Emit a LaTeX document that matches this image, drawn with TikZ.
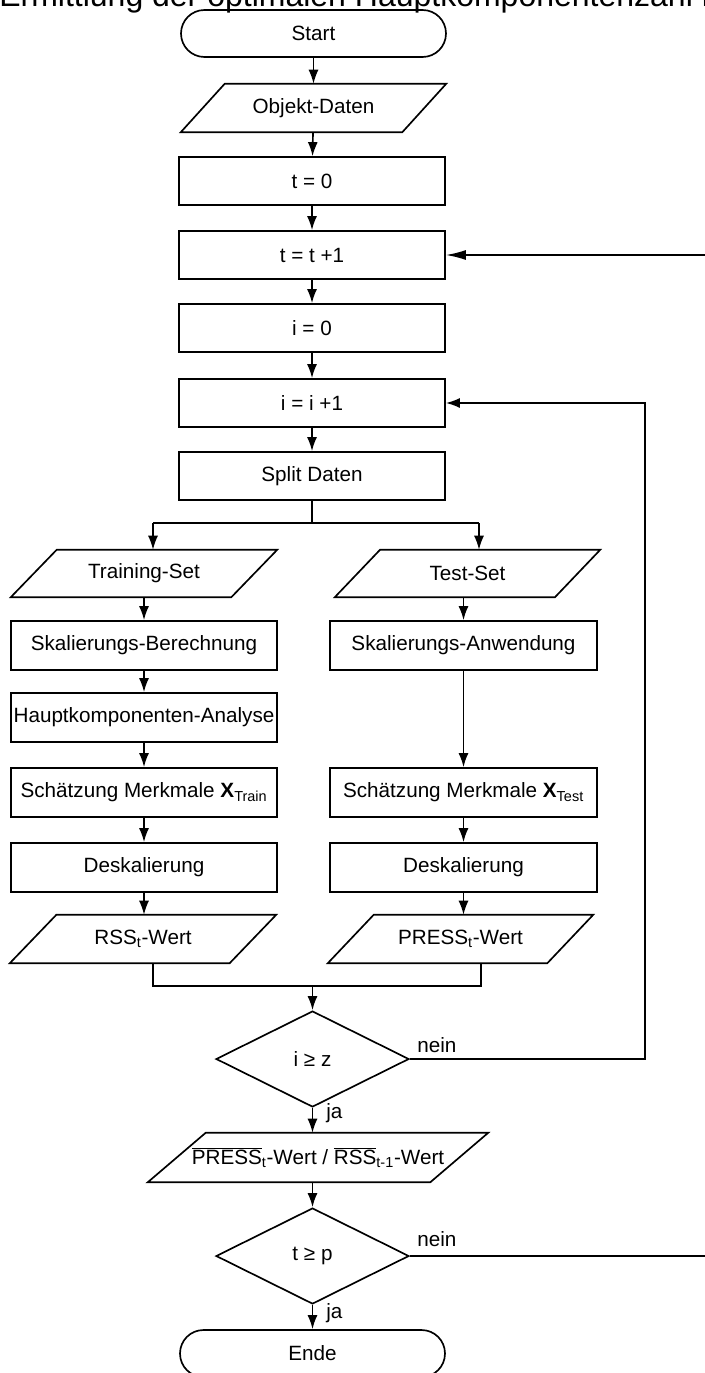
\documentclass[tikz,border=0pt]{standalone}
\usepackage{fontspec}
\setmainfont{Liberation Sans}
\usetikzlibrary{shapes.geometric,arrows.meta,calc}
\newcommand\parashape[2]{\draw[ln] (#1.south west) -- ([xshift=-#2]#1.south east) -- (#1.north east) -- ([xshift=#2]#1.north west) -- cycle;}
\begin{document}
\begin{tikzpicture}[x=0.75pt,y=-0.75pt,
  every node/.style={font=\fontsize{15.5pt}{18pt}\selectfont},
  ln/.style={line width=1.25pt},
  arr/.style={ln,-{Latex[length=10.5pt,width=7.5pt]}},
  bigarr/.style={ln,-{Latex[length=15pt,width=7.5pt]}},
  wh/.style 2 args={minimum width=#1*0.75pt,minimum height=#2*0.75pt},
  rbox/.style={draw,ln,rectangle,inner sep=0pt},
  pbox/.style={rectangle,inner sep=0pt},
  stad/.style={draw,ln,rectangle,rounded corners=17.6pt,inner sep=0pt},
  dia/.style={draw,ln,diamond,aspect=2,inner sep=0pt,minimum width=144.75pt,minimum height=72pt},
  lbl/.style={anchor=west,inner sep=0pt}]
\useasboundingbox (0,0) rectangle (705,1373);
\clip (0,0) rectangle (705,1373);
% title (cut off at the top, as in the reference)
\node[anchor=base west,inner sep=0pt,font=\fontsize{24pt}{28pt}\selectfont] (title) at (-1,7) {Ermittlung der optimalen Hauptkomponentenzahl n};
% main column
\node[stad,wh={265}{47}] (start) at (313.5,33.5) {Start};
\node[pbox,wh={265}{48}] (objekt) at (313.5,108) {Objekt-Daten};
\parashape{objekt}{33pt}
\node[rbox,wh={266}{48}] (t0) at (312,181) {t = 0};
\node[rbox,wh={266}{48}] (tt) at (312,255) {t = t +1};
\node[rbox,wh={266}{48}] (i0) at (312,328) {i = 0};
\node[rbox,wh={266}{48}] (ii) at (312,403) {i = i +1};
\node[rbox,wh={266}{48}] (split) at (312,476) {Split Daten};
% left column
\node[pbox,wh={266}{47}] (train) at (144,573.5) {Training-Set};
\parashape{train}{34.5pt}
\node[rbox,wh={266}{49}] (skb) at (144,645.5) {Skalierungs-Berechnung};
\node[rbox,wh={266}{49}] (hka) at (144,717.5) {Hauptkomponenten-Analyse};
\node[rbox,wh={266}{49}] (stl) at (144,792.5) {Schätzung Merkmale \textbf{X}\textsubscript{Train}};
\node[rbox,wh={266}{49}] (dl) at (144,867.5) {Deskalierung};
\node[pbox,wh={266}{48}] (rss) at (143,939) {RSS\textsubscript{t}-Wert};
\parashape{rss}{35pt}
% right column
\node[pbox,wh={265}{47}] (test) at (467.5,573.5) {Test-Set};
\parashape{test}{34pt}
\node[rbox,wh={267}{49}] (ska) at (463.5,645.5) {Skalierungs-Anwendung};
\node[rbox,wh={267}{49}] (str) at (463.5,792.5) {Schätzung Merkmale \textbf{X}\textsubscript{Test}};
\node[rbox,wh={267}{49}] (dr) at (463.5,867.5) {Deskalierung};
\node[pbox,wh={265}{48}] (press) at (460.5,939) {PRESS\textsubscript{t}-Wert};
\parashape{press}{34.5pt}
% decisions
\node[dia] (d1) at (312.5,1059) {i ≥ z};
\node[pbox,wh={340}{49}] (pr) at (318,1157.5) {$\overline{\mbox{PRESS}}$\textsubscript{t}-Wert / $\overline{\mbox{RSS}}$\textsubscript{t-1}-Wert};
\parashape{pr}{43.5pt}
\node[dia] (d2) at (312.5,1256) {t ≥ p};
\node[stad,wh={265}{47}] (ende) at (312.5,1353.5) {Ende};
% labels
\node[lbl] (ja1) at (326,1113) {ja};
\node[lbl] (ja2) at (326,1313) {ja};
\node[lbl] (nein1) at (417,1045) {nein};
\node[lbl] (nein2) at (417,1239) {nein};
% coordinates
\coordinate (bc) at (312,523);
\coordinate (bl) at (153,523);
\coordinate (brr) at (479,523);
\coordinate (ml) at (153,986);
\coordinate (mr) at (481,986);
\coordinate (mc) at (312.5,986);
\coordinate (l1) at (645,403);
\coordinate (l2) at (730,255);
% connectors
\draw[arr] (start) -- (objekt);
\draw[arr] (objekt) -- (t0);
\draw[arr] (t0) -- (tt);
\draw[arr] (tt) -- (i0);
\draw[arr] (i0) -- (ii);
\draw[arr] (ii) -- (split);
\draw[ln] (split.south) -- (bc);
\draw[ln] (bl) -- (brr);
\draw[arr] (bl) -- (bl |- train.north);
\draw[arr] (brr) -- (brr |- test.north);
\draw[arr] (train.south -| skb) -- (skb);
\draw[arr] (skb) -- (hka);
\draw[arr] (hka) -- (stl);
\draw[arr] (stl) -- (dl);
\draw[arr] (dl) -- (dl |- rss.north);
\draw[arr] (test.south -| ska) -- (ska);
\draw[arr] (ska) -- (str);
\draw[arr] (str) -- (dr);
\draw[arr] (dr) -- (dr |- press.north);
\draw[ln] (ml |- rss.south) -- (ml) -- (mr) -- (mr |- press.south);
\draw[arr] (mc) -- (d1.north);
\draw[arr] (d1.east) -| (l1) -- (ii.east);
\draw[arr] (d1.south) -- (d1.south |- pr.north);
\draw[arr] (pr.south -| d2) -- (d2.north);
\draw[bigarr] (d2.east) -| (l2) -- (tt.east);
\draw[arr] (d2.south) -- (ende);
\end{tikzpicture}
\end{document}
